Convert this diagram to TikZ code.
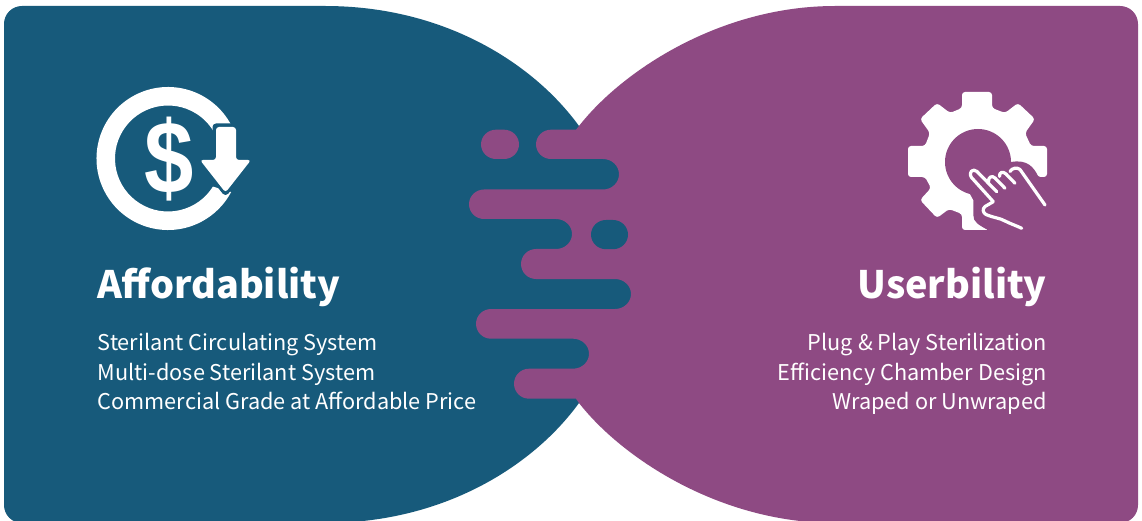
\documentclass[tikz,border=0pt]{standalone}
\usepackage{fontspec}
\setmainfont{Noto Sans CJK SC}
\newfontfamily\dollarfont{Liberation Sans}
\definecolor{tealblue}{HTML}{175A7B}
\definecolor{plum}{HTML}{8E4A83}
\tikzset{
  heading/.style={text=white,inner sep=0pt,font=\fontsize{37.8}{38}\selectfont\bfseries},
  bodytext/.style={text=white,inner sep=0pt,font=\fontsize{21.7}{22}\selectfont},
  handline/.style={draw=white,line width=3.2pt,line cap=round,line join=round}
}
\begin{document}
\begin{tikzpicture}[x=1pt,y=-1pt]
\useasboundingbox (0,0) rectangle (1142,521);
% blue lobe
\fill[tealblue] (4,24) .. controls (4,14) and (12,6) .. (22,6) -- (325,6)
  .. controls (445,6) and (534,64) .. (579,126)
  -- (640,126) -- (640,403)
  -- (579,403)
  .. controls (534,465) and (445,523) .. (325,523)
  -- (22,523) .. controls (12,523) and (4,515) .. (4,505) -- cycle;
% purple lobe with fingers
\fill[plum] (1138,24) .. controls (1138,14) and (1130,6) .. (1120,6) -- (835,6)
  .. controls (720,6) and (622,71) .. (579,126)
  -- (576,129.7) -- (551,129.7)
  arc[start angle=90,end angle=270,x radius=15pt,y radius=14.65pt]
  -- (603,159) arc[start angle=90,end angle=-90,x radius=16pt,y radius=15.25pt]
  -- (484,189.5) arc[start angle=90,end angle=270,x radius=15pt,y radius=14.75pt]
  -- (556,219) arc[start angle=90,end angle=-90,x radius=16pt,y radius=15pt]
  -- (536,249) arc[start angle=90,end angle=270,x radius=15pt,y radius=15pt]
  -- (615,279) arc[start angle=90,end angle=-90,x radius=16pt,y radius=15pt]
  -- (491,309) arc[start angle=90,end angle=270,x radius=15pt,y radius=14.85pt]
  -- (573,338.7) arc[start angle=90,end angle=-90,x radius=16pt,y radius=15pt]
  -- (529,368.7) arc[start angle=90,end angle=270,x radius=15pt,y radius=15pt]
  -- (576,398.7) -- (579,403)
  .. controls (622,458) and (720,523) .. (835,523)
  -- (1120,523) .. controls (1130,523) and (1138,515) .. (1138,505) -- cycle;
% ovals
\fill[plum] (496,129.7) arc[start angle=90,end angle=270,x radius=15pt,y radius=14.65pt] -- (504,159) arc[start angle=-90,end angle=90,x radius=15pt,y radius=14.65pt] -- cycle;
\fill[tealblue] (606,220) arc[start angle=90,end angle=270,x radius=15pt,y radius=14.6pt] -- (613,249.2) arc[start angle=-90,end angle=90,x radius=15pt,y radius=14.6pt] -- cycle;
% dollar icon
\fill[white] ({168+71.5*cos(28)},{158.5-71.5*sin(28)})
  arc[start angle=28,delta angle=304,radius=71.5pt]
  -- ({168+53*cos(32)},{158.5+53*sin(32)})
  arc[start angle=-32,delta angle=-296,radius=53pt] -- cycle;
\node[text=white,inner sep=0pt,font=\dollarfont\bfseries\fontsize{103}{103}\selectfont,xscale=.86,transform shape] (dollar) at (169.5,159) {\$};
\draw[tealblue,line width=7pt,line join=round,fill=tealblue] (216,127) -- (236,127) -- (236,160) -- (250.5,160) -- (225.5,191.5) -- (200.5,160) -- (216,160) -- cycle;
\fill[white,rounded corners=3pt] (216,127) -- (236,127) -- (236,160) -- (251,160) -- (225.5,192.5) -- (200,160) -- (216,160) -- cycle;
% gear icon
\fill[white,rounded corners=3pt] (962,92) -- (992,92) -- (992,108) -- (1005,113) -- (1018,103) -- (1035,119) -- (1025,133) -- (1031,146) -- (1047,146) -- (1047,177) -- (1033,177) -- (1000,200) -- (992,215) -- (990,230) -- (962,230) -- (962,214) -- (949,209) -- (937,218) -- (920,200) -- (931,188) -- (925,177) -- (908,177) -- (908,146) -- (925,146) -- (930,133) -- (920,119) -- (937,103) -- (950,113) -- (962,108) -- cycle;
\fill[plum] (978,162) circle[radius=33pt];
\fill[plum] (1011,162) .. controls (1028,159) and (1034,168) .. (1038,176) -- (1042,178) -- (1060,178) -- (1060,240) -- (987,240) -- (987,229.5) .. controls (979,225) and (973,222) .. (973.3,215) -- (973.3,200) -- (965,185) -- cycle;
% hand
\draw[handline] (993.3,201.7) -- (971.5,177.5) .. controls (968,172) and (973,168) .. (977,171.5) -- (996.7,191.7)
  (988.5,182) .. controls (988,177) and (992,175) .. (995,178) -- (1005,188.3)
  (999.5,176.5) .. controls (999,172) and (1003,171) .. (1006,174) -- (1015,183.3)
  (1010,171.5) .. controls (1012,168) and (1017,167) .. (1020,169.5) -- (1045,205)
  (993.3,201.7) -- (985,206.5) .. controls (982,209) and (983,213) .. (986,214.5) .. controls (994,218) and (1000,218) .. (1005,221) .. controls (1011,224) and (1017,226) .. (1021.7,228.3);
% text
\node[heading,anchor=base west] (t1) at (97,298) {Affordability};
\node[bodytext,anchor=base west] (a1) at (97.5,350) {Sterilant Circulating System};
\node[bodytext,anchor=base west] (a2) at (97.5,380) {Multi-dose Sterilant System};
\node[bodytext,anchor=base west] (a3) at (97.5,409) {Commercial Grade at Affordable Price};
\node[heading,anchor=base east] (t2) at (1047,298) {Userbility};
\node[bodytext,anchor=base east] (b1) at (1047,350) {Plug \& Play Sterilization};
\node[bodytext,anchor=base east] (b2) at (1047,380) {Efficiency Chamber Design};
\node[bodytext,anchor=base east] (b3) at (1047,409) {Wraped or Unwraped};
\end{tikzpicture}
\end{document}
